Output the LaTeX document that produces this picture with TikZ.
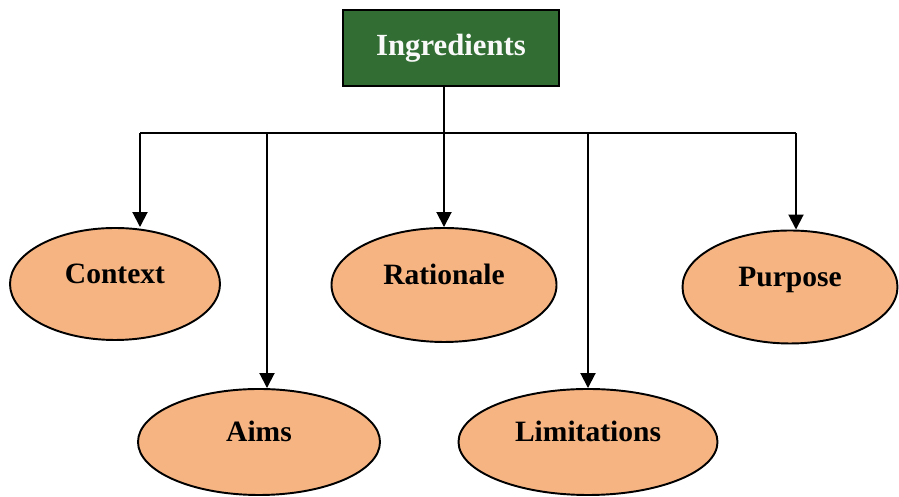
\documentclass[tikz,border=0pt]{standalone}
\usepackage{fontspec}
\setmainfont{Liberation Serif}
\usepackage{tikz}
\usepackage{xcolor}
\usetikzlibrary{shapes.geometric,arrows.meta}

\definecolor{boxgreen}{RGB}{50,110,52}
\definecolor{peach}{RGB}{246,180,130}

\begin{document}
\begin{tikzpicture}[
    topbox/.style={draw=black, line width=1.2pt, fill=boxgreen, text=white!95!gray,
        minimum width=4.32cm, minimum height=1.52cm, inner sep=0pt,
        font=\fontsize{17.5}{20}\selectfont\bfseries},
    bubble/.style={ellipse, draw=black, line width=1.1pt, fill=peach, inner sep=0pt,
        text height=0.5cm, text depth=0.5cm,
        font=\fontsize{16.8}{20}\selectfont\bfseries},
    link/.style={line width=1.1pt},
    arrow/.style={link, -{Triangle[length=3mm,width=3mm]}}
]
        \useasboundingbox (0,0) rectangle (17.98,9.94);

        % Top box
        \node[topbox] (ingr) at (9.02,8.98) {Ingredients};

        % Upper row of ellipses
        \node[bubble, minimum width=4.2cm, minimum height=2.24cm] (ctx) at (2.30,4.26) {Context};
        \node[bubble, minimum width=4.5cm, minimum height=2.28cm] (rat) at (8.88,4.24) {Rationale};
        \node[bubble, minimum width=4.3cm, minimum height=2.26cm] (pur) at (15.80,4.20) {Purpose};

        % Lower row of ellipses
        \node[bubble, minimum width=4.84cm, minimum height=2.12cm] (aims) at (5.18,1.10) {Aims};
        \node[bubble, minimum width=5.18cm, minimum height=2.12cm] (lim) at (11.76,1.10) {Limitations};

        % Bus line
        \coordinate (busL) at (2.80,7.28);
        \coordinate (busR) at (15.92,7.28);
        \coordinate (aimsDrop) at (5.34,7.28);
        \coordinate (limDrop) at (11.76,7.28);
        \draw[link] (busL) -- (busR);

        % Drops
        \draw[arrow] (ingr.south -| rat.north) -- (rat.north);
        \draw[arrow] (busL) -- (ctx.north -| busL);
        \draw[arrow] (aimsDrop) -- (aims.north -| aimsDrop);
        \draw[arrow] (limDrop) -- (lim.north);
        \draw[arrow] (busR) -- (pur.north -| busR);
\end{tikzpicture}
\end{document}
